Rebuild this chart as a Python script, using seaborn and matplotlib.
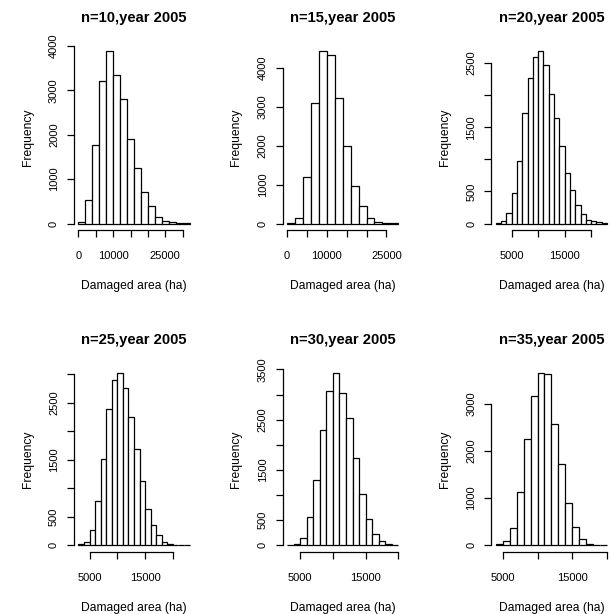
import numpy as np
import pandas as pd
import matplotlib
matplotlib.use("Agg")
import matplotlib.pyplot as plt
import seaborn as sns

# Simulated damaged area for 2005, one histogram per sample size n
year = 2005
sample_sizes = [10, 15, 20, 25, 30, 35]

# lower edge of the first bin and bin width (ha) for each sample size
bin_starts = [0, 0, 2000, 3000, 3000, 4000]
bin_widths = [2000, 2000, 1000, 1000, 1000, 1000]

# frequencies per bin
counts_n10 = [30, 524, 1775, 3200, 3873, 3348, 2800, 1910, 1250, 712, 390, 150, 60, 25, 10, 4]
counts_n15 = [4, 146, 1199, 3100, 4428, 4343, 3229, 2004, 959, 445, 146, 43, 15, 3]
counts_n20 = [10, 40, 166, 477, 980, 1722, 2267, 2593, 2681, 2464, 2012, 1639, 1203,
              783, 519, 290, 150, 62, 41, 26, 10]
counts_n25 = [23, 53, 263, 771, 1507, 2383, 2897, 3020, 2751, 2243, 1694, 1121, 631,
              350, 187, 58, 23, 8, 3, 1]
counts_n30 = [2, 27, 140, 558, 1301, 2297, 3074, 3426, 3034, 2530, 1740, 1016, 531,
              226, 86, 27, 5]
counts_n35 = [28, 92, 368, 1125, 2250, 3164, 3652, 3623, 2569, 1727, 906, 396, 127,
              28, 5, 1]
all_counts = [counts_n10, counts_n15, counts_n20, counts_n25, counts_n30, counts_n35]

# axis ticks and the labels that are printed (blank where they would collide)
xticks = [
    [0, 5000, 10000, 15000, 20000, 25000, 30000],
    [0, 5000, 10000, 15000, 20000, 25000],
    [5000, 10000, 15000, 20000],
    [5000, 10000, 15000, 20000],
    [5000, 10000, 15000, 20000],
    [5000, 10000, 15000, 20000],
]
xtick_labels = [
    ["0", "", "10000", "", "", "25000", ""],
    ["0", "", "10000", "", "", "25000"],
    ["5000", "", "15000", ""],
    ["5000", "", "15000", ""],
    ["5000", "", "15000", ""],
    ["5000", "", "15000", ""],
]
yticks = [
    [0, 1000, 2000, 3000, 4000],
    [0, 1000, 2000, 3000, 4000],
    [0, 500, 1000, 1500, 2000, 2500],
    [0, 500, 1000, 1500, 2000, 2500, 3000],
    [0, 500, 1000, 1500, 2000, 2500, 3000, 3500],
    [0, 1000, 2000, 3000],
]
ytick_labels = [
    ["0", "1000", "2000", "3000", "4000"],
    ["0", "1000", "2000", "3000", "4000"],
    ["0", "500", "", "1500", "", "2500"],
    ["0", "500", "", "1500", "", "2500", ""],
    ["0", "500", "", "1500", "", "2500", "", "3500"],
    ["0", "1000", "2000", "3000"],
]

sns.set_style("ticks")
plt.rcParams["font.family"] = ["Liberation Sans", "DejaVu Sans"]
plt.rcParams["text.color"] = "black"
plt.rcParams["axes.labelcolor"] = "black"

W, H = 612, 614
fig = plt.figure(figsize=(W / 100, H / 100), dpi=100)

col_left = [74.0, 282.7, 491.4]
row_bottom = [230.5, 552.2]
ax_w, ax_h = 120.0, 186.0
lw = 0.9

for i, (n, counts) in enumerate(zip(sample_sizes, all_counts)):
    r, c = divmod(i, 3)
    rect = [col_left[c] / W, (H - row_bottom[r]) / H, ax_w / W, ax_h / H]
    ax = fig.add_axes(rect)

    start, width = bin_starts[i], bin_widths[i]
    edges = [start + width * k for k in range(len(counts) + 1)]
    frame = pd.DataFrame({
        "area": [e + width / 2 for e in edges[:-1]],
        "freq": counts,
    })
    sns.histplot(data=frame, x="area", weights="freq", bins=edges, ax=ax,
                 color="white", edgecolor="black", linewidth=lw, alpha=1)

    lo, hi = edges[0], edges[-1]
    pad = 0.04 * (hi - lo)
    ax.set_xlim(lo - pad, hi + pad)
    top = max(counts)
    ax.set_ylim(-0.04 * top, 1.04 * top)

    sns.despine(ax=ax)
    for side in ("left", "bottom"):
        ax.spines[side].set_linewidth(lw)
        ax.spines[side].set_color("black")
    ax.spines["left"].set_bounds(yticks[i][0], yticks[i][-1])
    ax.spines["bottom"].set_bounds(xticks[i][0], xticks[i][-1])

    ax.set_xticks(xticks[i])
    ax.set_xticklabels(xtick_labels[i])
    ax.set_yticks(yticks[i])
    ax.set_yticklabels(ytick_labels[i], rotation=90, va="center")
    ax.tick_params(axis="both", length=4.8, width=lw, color="black",
                   labelsize=8, labelcolor="black")
    ax.tick_params(axis="x", pad=10)
    ax.tick_params(axis="y", pad=6)

    ax.set_title(f"n={n},year {year}", fontsize=10.6, fontweight="bold",
                 color="black", pad=16)
    ax.set_xlabel("Damaged area (ha)", fontsize=8.7, labelpad=14)
    ax.set_ylabel("Frequency", fontsize=8.7, labelpad=11)

fig.savefig("out.png", dpi=100, facecolor="white")
